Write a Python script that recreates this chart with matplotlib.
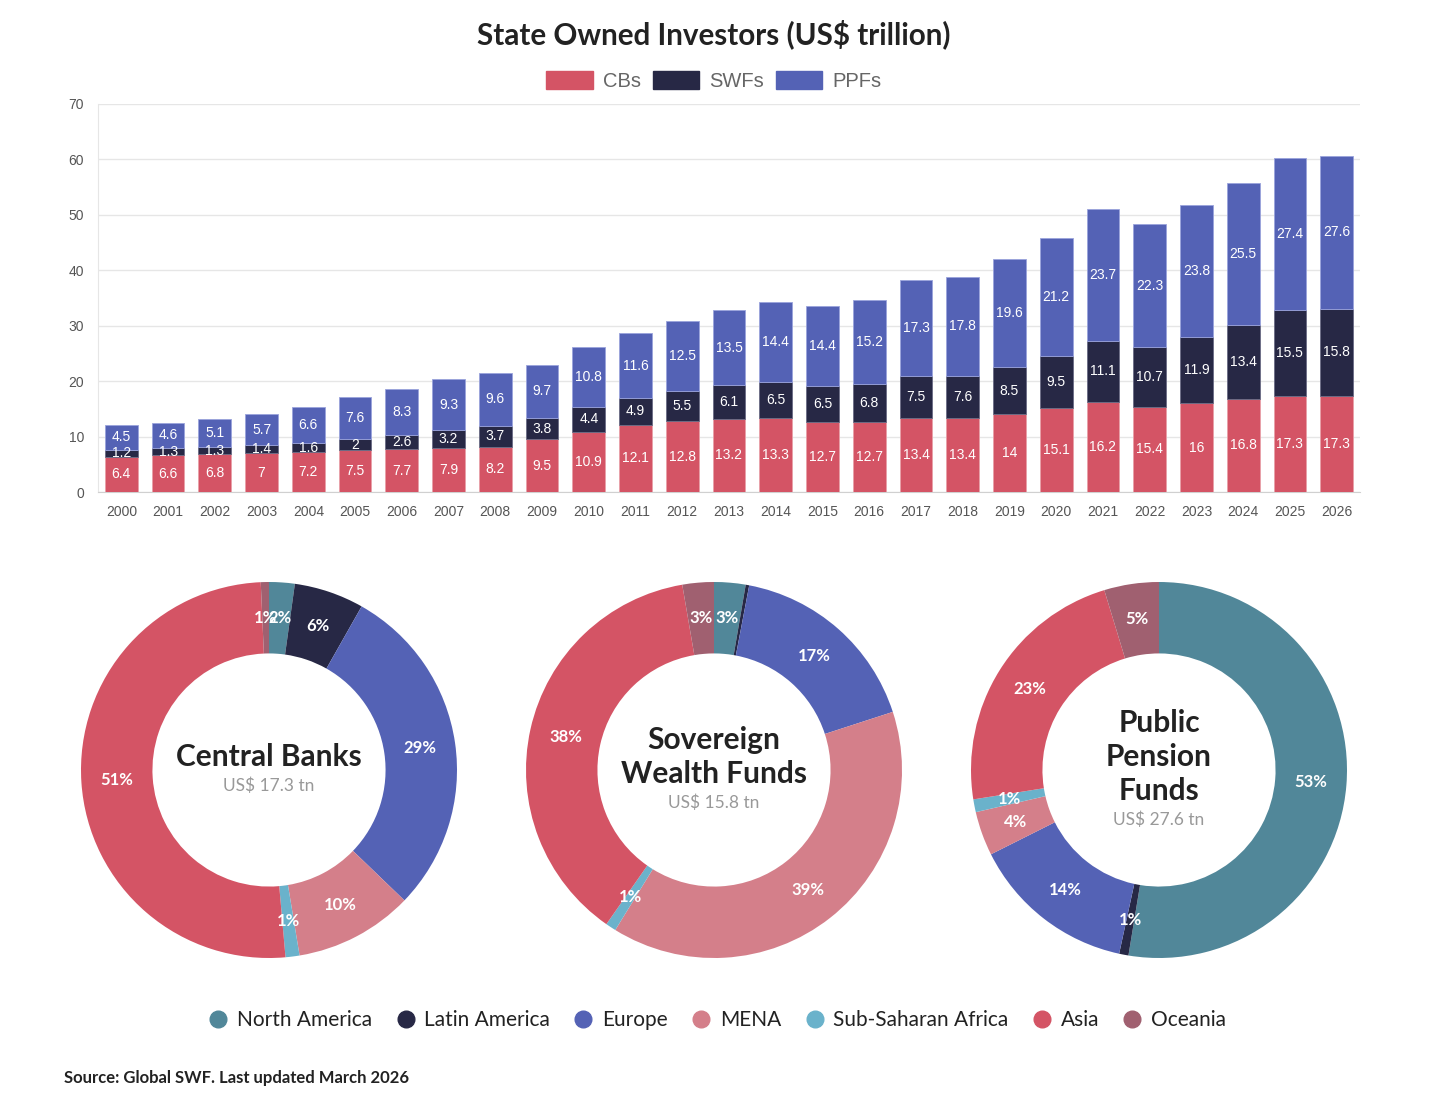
import numpy as np
import matplotlib
matplotlib.use('Agg')
import matplotlib.pyplot as plt
from matplotlib.patches import Patch
from matplotlib.lines import Line2D

# bar chart data (US$ trillion)
years = [str(y) for y in range(2000, 2027)]
cbs = [6.4, 6.6, 6.8, 7, 7.2, 7.5, 7.7, 7.9, 8.2, 9.5, 10.9, 12.1, 12.8, 13.2, 13.3, 12.7, 12.7,
       13.4, 13.4, 14, 15.1, 16.2, 15.4, 16, 16.8, 17.3, 17.3]
swfs = [1.2, 1.3, 1.3, 1.4, 1.6, 2, 2.6, 3.2, 3.7, 3.8, 4.4, 4.9, 5.5, 6.1, 6.5, 6.5, 6.8,
        7.5, 7.6, 8.5, 9.5, 11.1, 10.7, 11.9, 13.4, 15.5, 15.8]
ppfs = [4.5, 4.6, 5.1, 5.7, 6.6, 7.6, 8.3, 9.3, 9.6, 9.7, 10.8, 11.6, 12.5, 13.5, 14.4, 14.4, 15.2,
        17.3, 17.8, 19.6, 21.2, 23.7, 22.3, 23.8, 25.5, 27.4, 27.6]

# regional split (%) for the donuts
regions = ['North America', 'Latin America', 'Europe', 'MENA', 'Sub-Saharan Africa', 'Asia', 'Oceania']
cb_share = [2.2, 6.0, 29.0, 10.2, 1.2, 50.7, 0.7]
swf_share = [2.7, 0.3, 17.0, 38.8, 0.9, 37.6, 2.7]
ppf_share = [52.6, 0.8, 14.2, 3.8, 1.1, 22.8, 4.7]

donut_titles = ['Central Banks', 'Sovereign\nWealth Funds', 'Public\nPension\nFunds']
donut_totals = ['US$ 17.3 tn', 'US$ 15.8 tn', 'US$ 27.6 tn']

red = '#d45465'
navy = '#272845'
blue = '#5462b5'
region_colors = ['#518799', '#272845', '#5462b5', '#d47f8a', '#6ab2cb', '#d45465', '#a06070']

W, H = 1447, 1107
fig = plt.figure(figsize=(W / 100, H / 100), dpi=100)

# ---------- stacked bars ----------
ax = fig.add_axes([98 / W, 1 - 492 / H, 1262 / W, 388 / H])
x = np.arange(len(years))
bw = 0.7
ax.bar(x, cbs, bw, color=red, edgecolor='#e8a0a8', linewidth=0.6, zorder=3)
ax.bar(x, swfs, bw, bottom=cbs, color=navy, edgecolor='#6a6b85', linewidth=0.6, zorder=3)
bot2 = np.array(cbs) + np.array(swfs)
ax.bar(x, ppfs, bw, bottom=bot2, color=blue, edgecolor='#9aa3dc', linewidth=0.6, zorder=3)

lab_font = dict(family='Liberation Sans', fontsize=10, color='white', ha='center', va='center', zorder=4)
for i in range(len(years)):
    ax.text(x[i], cbs[i] / 2, f'{cbs[i]:g}', **lab_font)
    ax.text(x[i], cbs[i] + swfs[i] / 2, f'{swfs[i]:g}', **lab_font)
    ax.text(x[i], bot2[i] + ppfs[i] / 2, f'{ppfs[i]:g}', **lab_font)

ax.set_xlim(-0.5, len(years) - 0.5)
ax.set_ylim(0, 70)
ax.set_yticks(range(0, 71, 10))
ax.set_xticks(x)
ax.set_xticklabels(years)
ax.grid(axis='y', color='#e6e6e6', linewidth=1, zorder=0)
for s in ['top', 'right']:
    ax.spines[s].set_visible(False)
ax.spines['left'].set_color('#e6e6e6')
ax.spines['bottom'].set_color('#d0d0d0')
ax.tick_params(axis='both', length=0, labelsize=10, labelcolor='#555555')
ax.tick_params(axis='x', pad=9)
ax.tick_params(axis='y', pad=10)
for t in ax.get_xticklabels() + ax.get_yticklabels():
    t.set_family('Liberation Sans')

fig.text(714 / W, 1 - 34 / H, 'State Owned Investors (US$ trillion)', family='Lato',
         fontweight='bold', fontsize=21.3, color='#222222', ha='center', va='center')
fig.legend(handles=[Patch(color=red, label='CBs'), Patch(color=navy, label='SWFs'),
                    Patch(color=blue, label='PPFs')],
           loc='center', bbox_to_anchor=(714 / W, 1 - 81 / H), ncol=3, frameon=False,
           prop={'family': 'Liberation Sans', 'size': 14.5}, labelcolor='#666666',
           handlelength=2.3, handleheight=1.0, handletextpad=0.5, columnspacing=0.6)

# ---------- donuts ----------
centers = [269, 714, 1159]
shares = [cb_share, swf_share, ppf_share]
R = 188
for k in range(3):
    cx = centers[k]
    dax = fig.add_axes([(cx - R) / W, 1 - (770 + R) / H, 2 * R / W, 2 * R / H])
    wedges, _ = dax.pie(shares[k], colors=region_colors, startangle=90, counterclock=False,
                        radius=1, wedgeprops=dict(width=0.38, edgecolor='none'))
    start = 90.0
    tot = sum(shares[k])
    for v in shares[k]:
        ang = start - v / tot * 360 / 2
        start -= v / tot * 360
        if v < 0.5:
            continue
        r = 0.81
        dax.text(r * np.cos(np.radians(ang)), r * np.sin(np.radians(ang)), f'{v:.0f}%',
                 family='Lato', fontweight='bold', fontsize=12, color='white',
                 ha='center', va='center')
    dax.set_xlim(-1, 1)
    dax.set_ylim(-1, 1)
    dax.set_aspect('equal')
    dax.axis('off')

title_y = [757, 757, 757]
total_y = [786, 803, 820]
for k in range(3):
    fig.text(centers[k] / W, 1 - title_y[k] / H, donut_titles[k], family='Lato', fontweight='bold',
             fontsize=21.5, color='#222222', ha='center', va='center', linespacing=1.25)
    fig.text(centers[k] / W, 1 - total_y[k] / H, donut_totals[k], family='Lato', fontsize=12.5,
             color='#999999', ha='center', va='center')

handles = [Line2D([], [], marker='o', linestyle='none', markersize=12, color=c, label=r)
           for c, r in zip(region_colors, regions)]
fig.legend(handles=handles, loc='center', bbox_to_anchor=(716 / W, 1 - 1020 / H), ncol=7,
           frameon=False, prop={'family': 'Lato', 'size': 15}, labelcolor='#222222',
           handletextpad=0.3, columnspacing=1.0, handlelength=1.2)

fig.text(64 / W, 1 - 1078 / H, 'Source: Global SWF. Last updated March 2026', family='Lato',
         fontweight='bold', fontsize=12, color='#222222', ha='left', va='center')

fig.savefig('out.png', dpi=100, facecolor='white')
